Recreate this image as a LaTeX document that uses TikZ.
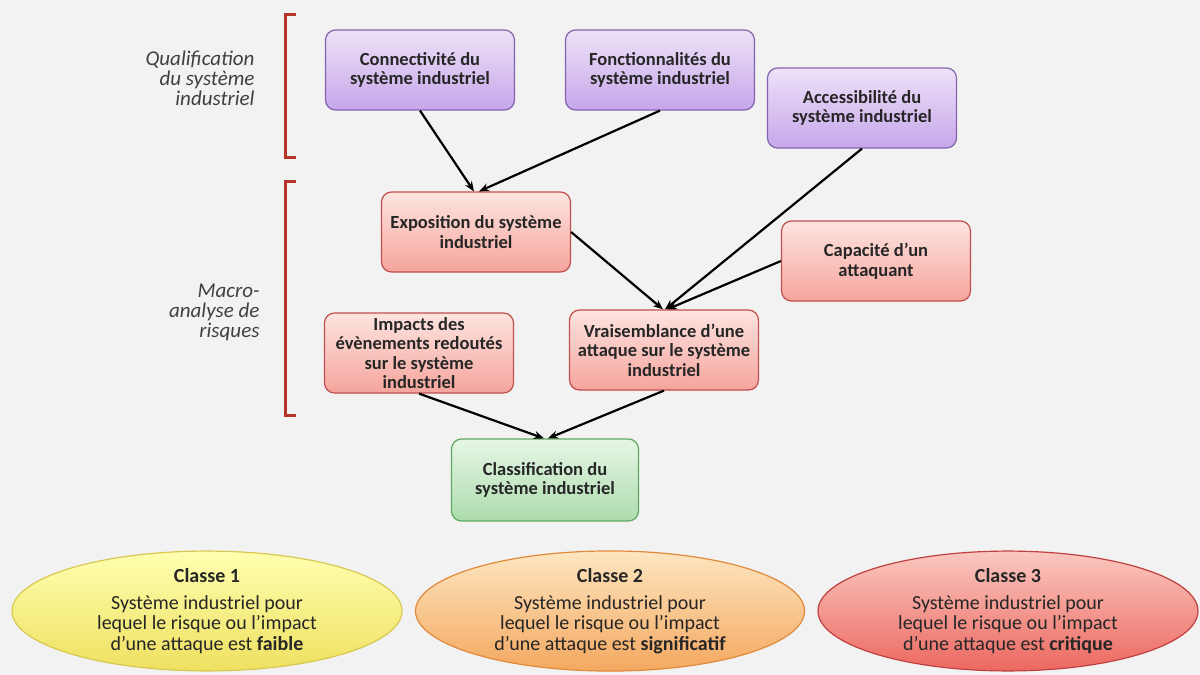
\documentclass[tikz,border=0pt]{standalone}
\usepackage{fontspec}
\setmainfont{Carlito}
\usetikzlibrary{shapes.geometric,arrows.meta}
\definecolor{bg}{HTML}{F2F2F2}
\definecolor{purpTop}{HTML}{EEE2F8}
\definecolor{purpBot}{HTML}{C6A6EA}
\definecolor{purpLine}{HTML}{8464AC}
\definecolor{redTop}{HTML}{FDE4E0}
\definecolor{redBot}{HTML}{F5A49C}
\definecolor{redLine}{HTML}{C0504D}
\definecolor{grnTop}{HTML}{E6F6E6}
\definecolor{grnBot}{HTML}{ADDCAD}
\definecolor{grnLine}{HTML}{5FA85F}
\definecolor{yelTop}{HTML}{FFFFB0}
\definecolor{yelBot}{HTML}{EEE060}
\definecolor{yelLine}{HTML}{D8C850}
\definecolor{orTop}{HTML}{FDE6C0}
\definecolor{orBot}{HTML}{F4A860}
\definecolor{orLine}{HTML}{E08A3A}
\definecolor{crTop}{HTML}{FAC8C0}
\definecolor{crBot}{HTML}{EC6860}
\definecolor{crLine}{HTML}{C04040}
\definecolor{brk}{HTML}{B5342A}
\tikzset{
  box/.style={rounded corners=10pt, minimum width=189pt, minimum height=80pt, align=center,
    line width=1.2pt, font=\fontsize{18.5}{19.5}\selectfont\bfseries, text=black!85, inner sep=2pt},
  purp/.style={box, draw=purpLine, top color=purpTop, bottom color=purpBot},
  redb/.style={box, draw=redLine, top color=redTop, bottom color=redBot},
  grnb/.style={box, draw=grnLine, top color=grnTop, bottom color=grnBot},
  cls/.style={ellipse, minimum width=390pt, minimum height=112pt, align=center, line width=1.2pt,
    font=\fontsize{20}{20.5}\selectfont, text=black!85, inner sep=0pt},
  lab/.style={align=right, font=\fontsize{21}{20}\selectfont\itshape, text=black!75},
  arr/.style={-{Stealth[length=10pt,width=8pt]}, line width=2.2pt, black},
  brack/.style={line width=3pt, brk}
}
\begin{document}
\begin{tikzpicture}[x=1pt,y=-1pt]
\fill[bg] (0,0) rectangle (1200,675);
\useasboundingbox (0,0) rectangle (1200,675);

% side labels
\node[lab, anchor=east] (lq) at (258,78) {Qualification\\du système\\industriel};
\node[lab, anchor=east] (lm) at (263,312) {Macro-\\analyse de\\risques};
\draw[brack] (296,14) -- (285,14) -- (285,157) -- (296,157);
\draw[brack] (296,181) -- (285,181) -- (285,415) -- (296,415);

% boxes
\node[purp] (conn) at (420,70) {Connectivité du\\système industriel};
\node[purp] (fonc) at (660,70) {Fonctionnalités du\\système industriel};
\node[purp] (acc)  at (862,108) {Accessibilité du\\système industriel};
\node[redb] (expo) at (476,232) {Exposition du système\\industriel};
\node[redb] (cap)  at (876,261) {Capacité d’un\\attaquant};
\node[redb] (imp)  at (419,353) {Impacts des\\évènements redoutés\\sur le système\\industriel};
\node[redb] (vrai) at (664,350) {Vraisemblance d’une\\attaque sur le système\\industriel};
\node[grnb, minimum width=187pt, minimum height=82pt] (cla) at (545,480) {Classification du\\système industriel};

% arrows
\draw[arr] (conn.south) -- ([xshift=-2pt]expo.north);
\draw[arr] (fonc.south) -- ([xshift=3pt]expo.north);
\draw[arr] (expo.east) -- ([xshift=-1pt]vrai.north);
\draw[arr] (acc.south) -- ([xshift=1pt]vrai.north);
\draw[arr] (cap.west) -- ([xshift=3pt]vrai.north);
\draw[arr] (imp.south) -- ([xshift=-1pt]cla.north);
\draw[arr] (vrai.south) -- ([xshift=3pt]cla.north);

% classes
\node[cls, draw=yelLine, top color=yelTop, bottom color=yelBot] (c1) at (207,611)
  {\textbf{Classe 1}\\[6pt]Système industriel pour\\lequel le risque ou l’impact\\d’une attaque est \textbf{faible}};
\node[cls, minimum width=389pt, draw=orLine, top color=orTop, bottom color=orBot] (c2) at (610,611)
  {\textbf{Classe 2}\\[6pt]Système industriel pour\\lequel le risque ou l’impact\\d’une attaque est \textbf{significatif}};
\node[cls, minimum width=380pt, draw=crLine, top color=crTop, bottom color=crBot] (c3) at (1008,611)
  {\textbf{Classe 3}\\[6pt]Système industriel pour\\lequel le risque ou l’impact\\d’une attaque est \textbf{critique}};
\end{tikzpicture}
\end{document}
